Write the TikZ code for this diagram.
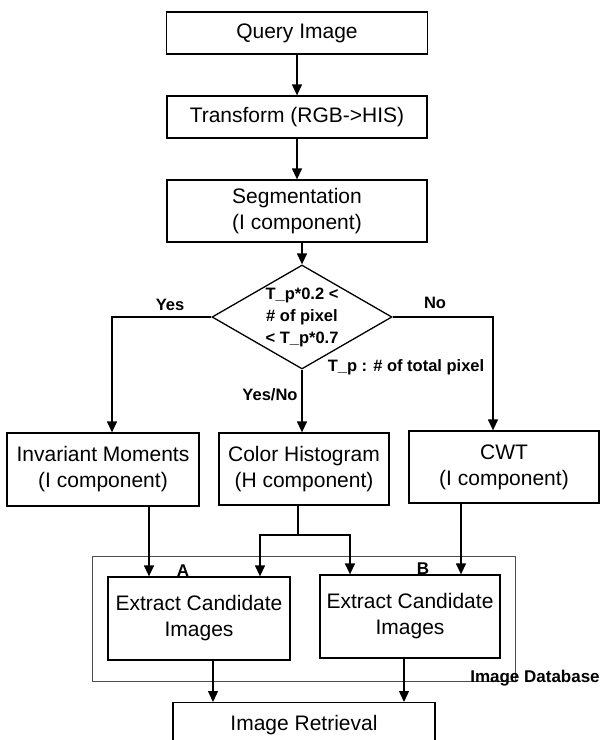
\documentclass[tikz,border=0pt]{standalone}
\usepackage{fontspec}
\setmainfont{Liberation Sans}
\usetikzlibrary{positioning, arrows.meta, shapes.geometric, calc}

\begin{document}
\begin{tikzpicture}[
    x=1pt, y=-1pt,
    box/.style={draw, rectangle, line width=1.3pt, align=center, inner sep=0pt, font=\fontsize{21}{26}\selectfont},
    decision/.style={draw, diamond, line width=1.3pt, minimum width=180pt, minimum height=104pt, inner sep=0pt},
    lbl/.style={font=\bfseries\fontsize{16.5}{22}\selectfont, align=center, inner sep=0pt},
    arr/.style={-{Triangle[length=11pt,width=10pt]}, line width=1.3pt},
    line/.style={line width=1.3pt},
    dbframe/.style={draw=black!70, line width=0.7pt}
]
    \useasboundingbox (0,0) rectangle (603,740);
    \clip (0,0) rectangle (603,740);

    \node[box, minimum width=261pt, minimum height=42pt] (query) at (297,33) {Query Image};
    \node[box, minimum width=260pt, minimum height=42pt] (transform) at (297,117) {Transform (RGB->HIS)};
    \node[box, minimum width=260pt, minimum height=62pt] (seg) at (297,211) {Segmentation\\(I component)};
    \node[decision] (dec) at (302,317) {};
    \node[lbl] (dectext) at (dec) {T\_p*0.2 <\\\# of pixel\\< T\_p*0.7};

    \node[box, minimum width=192pt, minimum height=73pt] (inv) at (103,469.5) {Invariant Moments\\(I component)};
    \node[box, minimum width=170pt, minimum height=72pt] (hist) at (304,469) {Color Histogram\\(H component)};
    \node[box, minimum width=190pt, minimum height=72pt] (cwt) at (504,467) {CWT\\(I component)};

    \draw[dbframe] (92,556) rectangle (515,681);
    \node[box, minimum width=182pt, minimum height=83pt] (exA) at (199,618.5) {Extract Candidate\\Images};
    \node[box, minimum width=180pt, minimum height=83pt] (exB) at (410,616.5) {Extract Candidate\\Images};
    \node[box, minimum width=262pt, minimum height=44pt, anchor=north] (retr) at (304,702) {Image Retrieval};

    % labels
    \node[lbl] (yes) at (170,305) {Yes};
    \node[lbl] (no) at (435,303) {No};
    \node[lbl] (yesno) at (270,395) {Yes/No};
    \node[lbl] (total) at (406,367) {T\_p : \# of total pixel};
    \node[lbl, font=\bfseries\fontsize{17}{20}\selectfont] (labA) at (183,571) {A};
    \node[lbl, font=\bfseries\fontsize{17}{20}\selectfont] (labB) at (423,569) {B};
    \node[lbl, font=\bfseries\fontsize{17}{20}\selectfont] (db) at (535,678) {Image Database};

    % arrows
    \draw[arr] (query) -- (transform);
    \draw[arr] (transform) -- (seg);
    \draw[arr] (seg.south -| dec.north) -- (dec.north);
    \draw[arr] (dec.west) -| ([xshift=9pt]inv.north);
    \draw[arr] (dec.east) -| ([xshift=-11pt]cwt.north);
    \draw[arr] (dec.south) -- (dec.south |- hist.north);

    \draw[arr] ([xshift=46pt]inv.south) -- ([xshift=46pt]inv.south |- exA.north);
    \coordinate (split) at (298,535);
    \draw[line] (hist.south -| split) -- (split);
    \draw[arr] (split) -| ([xshift=61pt]exA.north);
    \draw[arr] (split) -| ([xshift=-60pt]exB.north);
    \draw[arr] ([xshift=-43pt]cwt.south) -- ([xshift=-43pt]cwt.south |- exB.north);
    \draw[arr] ([xshift=14pt]exA.south) -- ([xshift=14pt]exA.south |- retr.north);
    \draw[arr] ([xshift=-6pt]exB.south) -- ([xshift=-6pt]exB.south |- retr.north);
\end{tikzpicture}
\end{document}
